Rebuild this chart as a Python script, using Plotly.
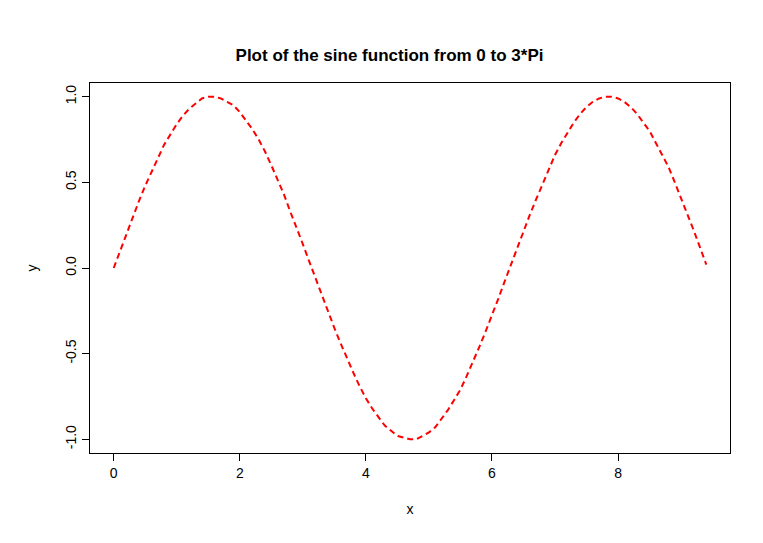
import numpy as np
import plotly.graph_objects as go

# sampled every 0.1 from 0 to 9.4
y_vals = [0.00, 0.10, 0.20, 0.30, 0.39, 0.48, 0.56, 0.64, 0.72, 0.78,
          0.84, 0.89, 0.93, 0.96, 0.99, 1.00, 1.00, 0.99, 0.97, 0.95,
          0.91, 0.86, 0.81, 0.75, 0.68, 0.60, 0.52, 0.43, 0.33, 0.24,
          0.14, 0.04, -0.06, -0.16, -0.26, -0.35, -0.44, -0.53, -0.61, -0.69,
          -0.76, -0.82, -0.87, -0.92, -0.95, -0.98, -0.99, -1.00, -1.00, -0.98,
          -0.96, -0.93, -0.88, -0.83, -0.77, -0.71, -0.63, -0.55, -0.46, -0.37,
          -0.28, -0.18, -0.08, 0.02, 0.12, 0.22, 0.31, 0.40, 0.49, 0.58,
          0.66, 0.73, 0.79, 0.85, 0.90, 0.94, 0.97, 0.99, 1.00, 1.00,
          0.99, 0.97, 0.94, 0.90, 0.85, 0.80, 0.73, 0.66, 0.59, 0.50,
          0.41, 0.32, 0.22, 0.12, 0.02]
x_vals = np.round(np.arange(len(y_vals)) * 0.1, 1)

x_ticks = [0, 2, 4, 6, 8]
y_ticks = [-1.0, -0.5, 0.0, 0.5, 1.0]

fig = go.Figure(go.Scatter(x=x_vals, y=y_vals, mode="lines",
                           line=dict(color="red", width=2, dash="6px,4px")))

axis_common = dict(showgrid=False, zeroline=False, showline=True, linecolor="black",
                   linewidth=1, mirror=True, ticks="outside", ticklen=7, automargin=False,
                   tickcolor="black", tickfont=dict(size=14, color="black"))

fig.update_layout(
    width=763, height=543,
    paper_bgcolor="white", plot_bgcolor="white",
    font=dict(family="Liberation Sans, Arial", color="black"),
    title=dict(text="<b>Plot of the sine function from 0 to 3*Pi</b>",
               x=0.5, y=0.925, xanchor="center", font=dict(size=17)),
    margin=dict(l=82, r=41, t=75, b=98),
    showlegend=False,
    xaxis=dict(range=[-0.376, 9.776], tickvals=x_ticks, ticktext=[str(t) for t in x_ticks],
               title=dict(text="x", font=dict(size=14), standoff=24), **axis_common),
    yaxis=dict(range=[-1.08, 1.08], tickvals=y_ticks, ticktext=["-1.0", "-0.5", "0.0", "0.5", "1.0"],
               tickangle=-90, title=dict(text="y", font=dict(size=14), standoff=22), **axis_common),
)

fig.write_html("out.html")
